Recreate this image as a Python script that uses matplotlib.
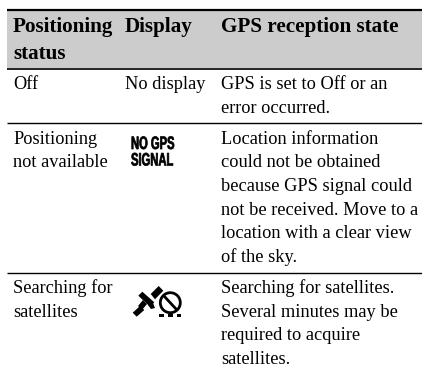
import matplotlib
matplotlib.use("Agg")
import matplotlib.pyplot as plt
from matplotlib.patches import Circle, Polygon, Rectangle
from matplotlib.patheffects import AbstractPathEffect
from matplotlib.transforms import Affine2D

headers = [["Positioning", "status"], ["Display"], ["GPS reception state"]]
status_lines = [["Off"], ["Positioning", "not available"], ["Searching for", "satellites"]]
display_text = "No display"
signal_lines = ["NO GPS", "SIGNAL"]
state_lines = [
    ["GPS is set to Off or an", "error occurred."],
    ["Location information", "could not be obtained", "because GPS signal could",
     "not be received. Move to a", "location with a clear view", "of the sky."],
    ["Searching for satellites.", "Several minutes may be", "required to acquire", "satellites."],
]

# baselines in pixels from the top
row_tops = [89, 143.5, 293]
line_gap = 23.7
col_x = [13, 125, 221]


class Squeeze(AbstractPathEffect):
    # narrows a text horizontally and thickens it, no condensed font is installed
    def __init__(self, x0, sx):
        super().__init__()
        self.x0 = x0
        self.sx = sx

    def draw_path(self, renderer, gc, tpath, affine, rgbFace=None):
        squeeze = Affine2D().translate(-self.x0, 0).scale(self.sx, 1).translate(self.x0, 0)
        gc0 = renderer.new_gc()
        gc0.copy_properties(gc)
        gc0.set_linewidth(0.5)
        gc0.set_foreground("black")
        renderer.draw_path(gc0, tpath, affine + squeeze, rgbFace)
        gc0.restore()


plt.rcParams["font.family"] = ["Liberation Serif", "DejaVu Serif"]
fig = plt.figure(figsize=(4.22, 3.68), dpi=100)
ax = fig.add_axes([0, 0, 1, 1])
ax.set_xlim(0, 422)
ax.set_ylim(368, 0)
ax.axis("off")

# header band and rules
ax.add_patch(Rectangle((7, 10), 415, 58, color="#cccccc", lw=0))
ax.plot([7, 422], [10, 10], color="black", lw=1.6, solid_capstyle="butt")
ax.plot([7, 422], [68.5, 68.5], color="black", lw=1.2, solid_capstyle="butt")
ax.plot([7, 422], [122.5, 122.5], color="black", lw=1.0, solid_capstyle="butt")
ax.plot([7, 422], [272.5, 272.5], color="black", lw=1.0, solid_capstyle="butt")

head_size = 15.2
body_size = 13.25

for i, x in enumerate(headers[0]):
    ax.text(col_x[0], 32 + i * 27, x, fontsize=head_size, fontweight="bold", va="baseline")
ax.text(col_x[1], 32, headers[1][0], fontsize=head_size, fontweight="bold", va="baseline")
ax.text(col_x[2], 32, headers[2][0], fontsize=head_size, fontweight="bold", va="baseline")

for r in range(3):
    for i, line in enumerate(status_lines[r]):
        ax.text(col_x[0], row_tops[r] + i * line_gap, line, fontsize=body_size, va="baseline")
    for i, line in enumerate(state_lines[r]):
        ax.text(col_x[2], row_tops[r] + i * line_gap, line, fontsize=body_size, va="baseline")

ax.text(col_x[1], row_tops[0], display_text, fontsize=body_size, va="baseline")

# NO GPS SIGNAL icon
for i, line in enumerate(signal_lines):
    ax.text(131, 149 + i * 16.5, line, family=["Liberation Sans"],
            fontsize=13, fontweight="bold", va="baseline",
            path_effects=[Squeeze(131, 0.62)])

# satellite icon
ax.add_patch(Polygon([(132.7, 312.7), (140, 306), (144.3, 310), (136.7, 316.7)], color="black", lw=0))
ax.add_patch(Polygon([(138.3, 295.7), (142.3, 291.7), (154.3, 302.3), (150, 306.7)], color="black", lw=0))
ax.add_patch(Polygon([(150.7, 294), (158.7, 286), (163.3, 290.7), (155, 299.3)], color="black", lw=0))
ax.add_patch(Polygon([(143, 300), (147, 304), (142, 310), (138, 306)], color="black", lw=0))
ax.add_patch(Polygon([(148, 305), (153, 303), (155, 308), (151, 309)], color="black", lw=0))
ax.add_patch(Circle((170.3, 302.7), 10, fill=False, ec="black", lw=2.0))
ax.plot([163.5, 177], [295.5, 310], color="black", lw=2.0, solid_capstyle="butt")
for x0 in [159, 168, 176.5]:
    ax.add_patch(Rectangle((x0, 314), 4.8, 2.7, color="black", lw=0))

fig.savefig("out.png", dpi=100)
